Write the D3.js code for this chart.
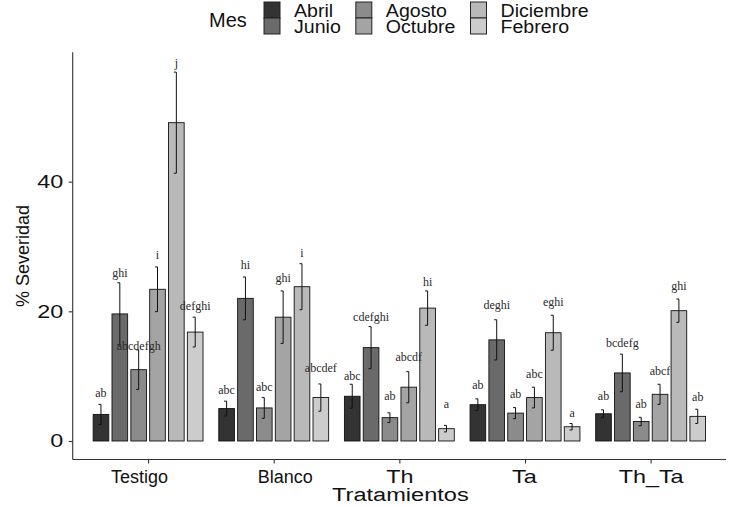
<!DOCTYPE html>
<html><head><meta charset="utf-8">
<script src="https://cdn.jsdelivr.net/npm/d3@7"></script>
<style>body{margin:0;background:#fff} svg{display:block}</style>
</head><body><svg id="c" width="731" height="506"></svg>
<script>
// ---------- data ----------
const categories = ["Testigo", "Blanco", "Th", "Ta", "Th_Ta"];
const months = ["Abril", "Junio", "Agosto", "Octubre", "Diciembre", "Febrero"];
const monthColors = ["#333333", "#6a6a6a", "#8b8b8b", "#a4a4a4", "#b9b9b9", "#cccccc"];
const yTicks = [0, 20, 40];

// mean % severity per month (Abril..Febrero) for each treatment
const testigoMean = [4.1, 19.6, 11.0, 23.4, 49.1, 16.8];
const blancoMean  = [5.0, 22.0, 5.1, 19.1, 23.8, 6.7];
const thMean      = [6.9, 14.4, 3.6, 8.3, 20.5, 1.9];
const taMean      = [5.6, 15.6, 4.3, 6.7, 16.7, 2.2];
const thTaMean    = [4.2, 10.5, 3.0, 7.2, 20.1, 3.8];

// error (± half-length of error bar)
const testigoErr = [1.55, 4.8, 3.05, 3.45, 7.8, 2.3];
const blancoErr  = [1.15, 3.3, 1.6, 4.05, 3.55, 2.1];
const thErr      = [1.85, 3.25, 0.75, 2.4, 2.65, 0.5];
const taErr      = [0.9, 3.1, 0.85, 1.6, 2.7, 0.5];
const thTaErr    = [0.6, 2.9, 0.65, 1.55, 1.8, 1.1];

// significance letters
const testigoLbl = ["ab", "ghi", "abcdefgh", "i", "j", "defghi"];
const blancoLbl  = ["abc", "hi", "abc", "ghi", "i", "abcdef"];
const thLbl      = ["abc", "cdefghi", "ab", "abcdf", "hi", "a"];
const taLbl      = ["ab", "deghi", "ab", "abc", "eghi", "a"];
const thTaLbl    = ["ab", "bcdefg", "ab", "abcf", "ghi", "ab"];

// y value where each letter label sits
const testigoLblY = [7.5, 26.0, 14.7, 28.7, 58.3, 20.9];
const blancoLblY  = [7.9, 27.2, 8.4, 25.1, 29.1, 11.3];
const thLblY      = [10.1, 19.2, 6.9, 13.0, 24.6, 5.8];
const taLblY      = [8.7, 21.0, 7.3, 10.4, 21.5, 4.35];
const thTaLblY    = [6.9, 15.2, 5.8, 10.75, 24.0, 6.8];

const yDataMax = 57.1;

// ---------- build table ----------
const means = [testigoMean, blancoMean, thMean, taMean, thTaMean];
const errs = [testigoErr, blancoErr, thErr, taErr, thTaErr];
const lbls = [testigoLbl, blancoLbl, thLbl, taLbl, thTaLbl];
const lblYs = [testigoLblY, blancoLblY, thLblY, taLblY, thTaLblY];
const rows = [];
categories.forEach((c, i) => months.forEach((m, j) => rows.push({
  cat: c, month: m, mean: means[i][j], err: errs[i][j], lbl: lbls[i][j], lblY: lblYs[i][j]
})));

// ---------- layout ----------
const svg = d3.select("#c");
const pL = 72.7, pR = 726, pT = 52.3, pB = 459.5;
const x = d3.scalePoint().domain(categories).range([pL, pR]).padding(0.6);
const step = x.step();
const xm = d3.scaleBand().domain(months).range([-0.45 * step, 0.45 * step]).paddingInner(0.17).paddingOuter(0.085);
const y = d3.scaleLinear().domain([-0.05 * yDataMax, 1.05 * yDataMax]).range([pB, pT]);
const color = d3.scaleOrdinal().domain(months).range(monthColors);

const g = svg.append("g");

// bars
g.selectAll("rect.bar").data(rows).join("rect").attr("class", "bar")
  .attr("x", d => x(d.cat) + xm(d.month))
  .attr("width", xm.bandwidth())
  .attr("y", d => y(d.mean))
  .attr("height", d => y(0) - y(d.mean))
  .attr("fill", d => color(d.month))
  .attr("stroke", "#111").attr("stroke-width", 0.9);

// error bars
const eb = g.selectAll("g.eb").data(rows).join("g").attr("class", "eb")
  .attr("stroke", "#111").attr("stroke-width", 1);
const cx = d => x(d.cat) + xm(d.month) + xm.bandwidth() / 2;
eb.append("line").attr("x1", cx).attr("x2", cx)
  .attr("y1", d => y(d.mean + d.err)).attr("y2", d => y(d.mean - d.err));
eb.append("line").attr("x1", d => cx(d) - 2.5).attr("x2", cx)
  .attr("y1", d => y(d.mean + d.err)).attr("y2", d => y(d.mean + d.err));
eb.append("line").attr("x1", d => cx(d) - 2.5).attr("x2", cx)
  .attr("y1", d => y(d.mean - d.err)).attr("y2", d => y(d.mean - d.err));

// letters
g.selectAll("text.lbl").data(rows).join("text").attr("class", "lbl")
  .attr("x", cx).attr("y", d => y(d.lblY)).attr("dy", "0.35em")
  .attr("text-anchor", "middle")
  .attr("font-family", "'Liberation Serif', 'Times New Roman', serif")
  .attr("font-size", 12).attr("fill", "#2a2a2a")
  .text(d => d.lbl);

// axes
const axisColor = "#333";
const yAxis = svg.append("g").attr("transform", `translate(${pL},0)`)
  .call(d3.axisLeft(y).tickValues(yTicks).tickSize(4).tickPadding(4).tickSizeOuter(0));
const xAxis = svg.append("g").attr("transform", `translate(0,${pB})`)
  .call(d3.axisBottom(x).tickSize(4).tickPadding(4).tickSizeOuter(0));
[yAxis, xAxis].forEach(a => {
  a.select(".domain").attr("stroke", axisColor).attr("stroke-width", 1.1);
  a.selectAll(".tick line").attr("stroke", axisColor).attr("stroke-width", 1.1);
  a.selectAll(".tick text").attr("fill", "#111")
    .attr("font-family", "'Liberation Sans', Arial, sans-serif").attr("font-size", 18);
});
yAxis.select(".domain").attr("d", `M0,${pT}V${pB}`);
xAxis.select(".domain").attr("d", `M${pL},0H${pR}`);
yAxis.selectAll(".tick text").attr("x", -7.2).attr("transform", "scale(1.3,1)");
const xLabelShift = {Testigo: -9, Blanco: 11, Th: 0, Ta: -0.8, Th_Ta: 0};
const wideLabels = new Set(["Th", "Ta", "Th_Ta"]);
xAxis.selectAll(".tick text")
  .attr("dx", d => xLabelShift[d])
  .attr("transform", d => wideLabels.has(d) ? "scale(1.3,1)" : null)
  .attr("dy", "0.85em");

// axis titles
svg.append("text").attr("transform", `translate(${(pL + pR) / 2 + 1},501) scale(1.31,1)`)
  .attr("text-anchor", "middle").attr("font-family", "'Liberation Sans', Arial, sans-serif")
  .attr("font-size", 18).attr("fill", "#111").text("Tratamientos");
svg.append("text").attr("transform", `translate(29,${(pT + pB) / 2}) rotate(-90)`)
  .attr("text-anchor", "middle").attr("font-family", "'Liberation Sans', Arial, sans-serif")
  .attr("font-size", 18).attr("fill", "#111").text("% Severidad");

// legend
const leg = svg.append("g").attr("font-family", "'Liberation Sans', Arial, sans-serif");
leg.append("text").attr("x", 209).attr("y", 27).attr("font-size", 20).attr("fill", "#111").text("Mes");
const keySize = 16, colStart = 264, rowTop = [2, 18], textGap = 14, colGap = 15, legScale = 1.12;
let colX = colStart;
for (let c = 0; c < 3; c++) {
  let maxW = 0;
  for (let r = 0; r < 2; r++) {
    const m = months[c * 2 + r];
    leg.append("rect").attr("x", colX).attr("y", rowTop[r]).attr("width", keySize).attr("height", keySize)
      .attr("fill", color(m)).attr("stroke", "#222").attr("stroke-width", 1);
    const tx = colX + keySize + textGap;
    const t = leg.append("text").attr("transform", `translate(${tx},${rowTop[r] + 14.5}) scale(${legScale},1)`)
      .attr("font-size", 17.5).attr("fill", "#111").text(m);
    maxW = Math.max(maxW, t.node().getComputedTextLength() * legScale);
  }
  colX += keySize + textGap + maxW + colGap;
}
</script></body></html>
